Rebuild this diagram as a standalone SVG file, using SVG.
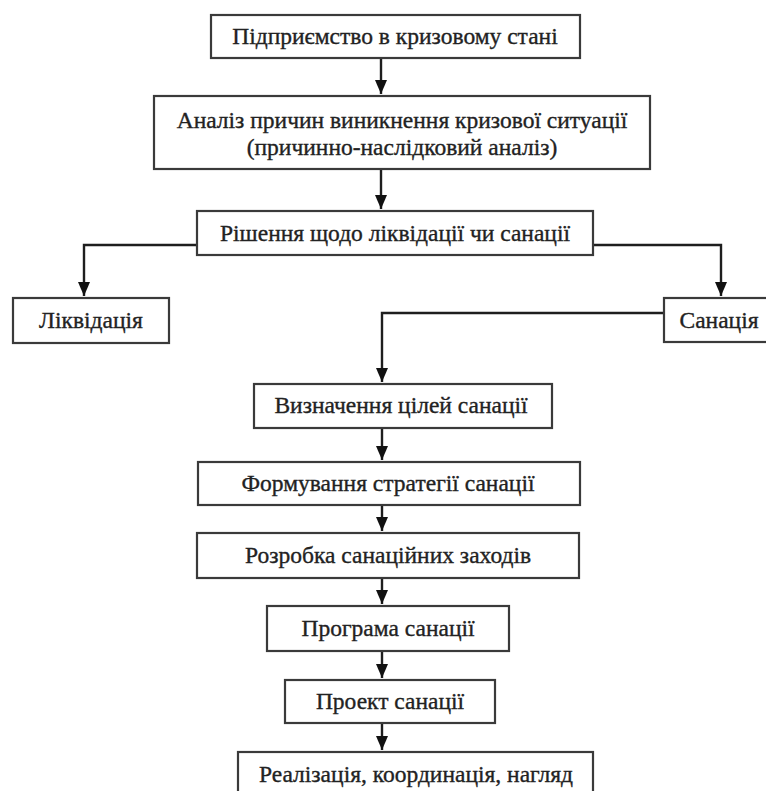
<svg xmlns="http://www.w3.org/2000/svg" width="766" height="791" viewBox="0 0 766 791">
<style>
  .box { fill: #ffffff; stroke: #3a3a3a; stroke-width: 2.2; }
  .lbl { font-family: "Liberation Serif", "DejaVu Serif", serif; font-size: 23.5px; fill: #222222; stroke: #222222; stroke-width: 0.35; text-anchor: middle; }
  .con { fill: none; stroke: #1e1e1e; stroke-width: 2.4; marker-end: url(#ah); }
</style>
<defs>
  <marker id="ah" viewBox="0 0 14 12" refX="14" refY="6" markerWidth="14" markerHeight="12" markerUnits="userSpaceOnUse" orient="auto">
    <path d="M0,0 L14,6 L0,12 z" fill="#111111"/>
  </marker>
</defs>
<rect width="766" height="791" fill="#ffffff"/>

<g id="connectors">
  <path class="con" d="M381,58 V94"/>
  <path class="con" d="M381,169 V209"/>
  <path class="con" d="M197,245 H84 V296"/>
  <path class="con" d="M593,245 H721 V296"/>
  <path class="con" d="M664,313 H382 V382"/>
  <path class="con" d="M382,428 V460"/>
  <path class="con" d="M382,505 V531"/>
  <path class="con" d="M382,578 V604"/>
  <path class="con" d="M382,651 V678"/>
  <path class="con" d="M382,723 V750"/>
</g>

<g id="n1">
  <rect class="box" x="211" y="15" width="369" height="43"/>
  <text class="lbl" x="395" y="44">Підприємство в кризовому стані</text>
</g>
<g id="n2">
  <rect class="box" x="154" y="96" width="496" height="73"/>
  <text class="lbl" x="402" y="128">Аналіз причин виникнення кризової ситуації</text>
  <text class="lbl" x="402" y="155">(причинно-наслідковий аналіз)</text>
</g>
<g id="n3">
  <rect class="box" x="197" y="211" width="396" height="44"/>
  <text class="lbl" x="395" y="241">Рішення щодо ліквідації чи санації</text>
</g>
<g id="n4">
  <rect class="box" x="13" y="298" width="156" height="45"/>
  <text class="lbl" x="91" y="328">Ліквідація</text>
</g>
<g id="n5">
  <rect class="box" x="664" y="298" width="104" height="44"/>
  <text class="lbl" x="719" y="328">Санація</text>
</g>
<g id="n6">
  <rect class="box" x="254" y="384" width="298" height="44"/>
  <text class="lbl" x="401" y="413">Визначення цілей санації</text>
</g>
<g id="n7">
  <rect class="box" x="198" y="462" width="382" height="43"/>
  <text class="lbl" x="388" y="491">Формування стратегії санації</text>
</g>
<g id="n8">
  <rect class="box" x="197" y="533" width="382" height="45"/>
  <text class="lbl" x="388" y="563">Розробка санаційних заходів</text>
</g>
<g id="n9">
  <rect class="box" x="267" y="606" width="242" height="45"/>
  <text class="lbl" x="388" y="636">Програма санації</text>
</g>
<g id="n10">
  <rect class="box" x="285" y="680" width="210" height="43"/>
  <text class="lbl" x="390" y="709">Проект санації</text>
</g>
<g id="n11">
  <rect class="box" x="238" y="752" width="355" height="45"/>
  <text class="lbl" x="416" y="782">Реалізація, координація, нагляд</text>
</g>
</svg>
